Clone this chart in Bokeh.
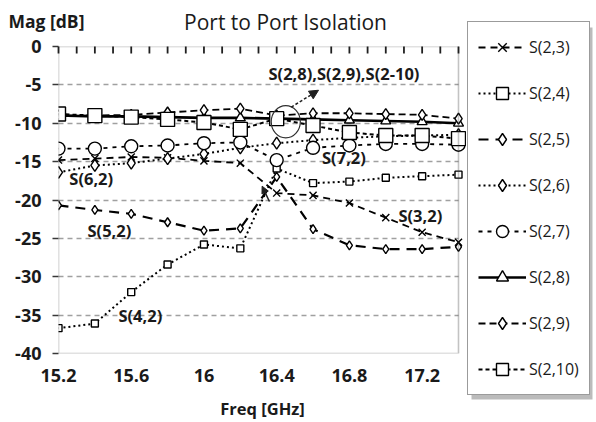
from bokeh.plotting import figure
from bokeh.layouts import row, column
from bokeh.models import (Range1d, FixedTicker, CustomJSTickFormatter, Label,
                          Arrow, NormalHead, Legend, LegendItem, BoxAnnotation)
from bokeh.embed import file_html
from bokeh.resources import INLINE

# ---------------- data ----------------
freq = [15.2, 15.4, 15.6, 15.8, 16.0, 16.2, 16.4, 16.6, 16.8, 17.0, 17.2, 17.4]
s23 = [-14.8, -14.6, -14.4, -14.5, -14.9, -15.2, -19.1, -19.4, -20.4, -22.3, -24.2, -25.5]
s24 = [-36.7, -36.1, -32.0, -28.4, -25.8, -26.3, -15.9, -17.8, -17.6, -17.1, -16.9, -16.7]
s25 = [-20.7, -21.3, -21.8, -22.9, -24.0, -23.7, -17.0, -23.8, -25.9, -26.4, -26.4, -26.1]
s26 = [-16.4, -15.5, -15.2, -14.6, -14.0, -13.2, -12.6, -12.2, -11.9, -11.7, -11.6, -11.5]
s27 = [-13.3, -13.3, -13.0, -12.9, -12.6, -12.5, -14.8, -13.2, -12.9, -12.7, -12.7, -12.8]
s28 = [-9.0, -9.1, -9.1, -9.2, -9.3, -9.3, -9.4, -9.5, -9.6, -9.7, -9.8, -10.0]
s29 = [-9.0, -9.0, -8.9, -8.6, -8.3, -8.1, -9.0, -8.7, -8.7, -8.8, -8.9, -9.4]
s210 = [-8.8, -9.0, -9.2, -9.5, -9.9, -10.8, -9.4, -10.3, -11.2, -11.6, -11.6, -12.0]

series_names = ["S(2,3)", "S(2,4)", "S(2,5)", "S(2,6)", "S(2,7)", "S(2,8)", "S(2,9)", "S(2,10)"]
series_values = [s23, s24, s25, s26, s27, s28, s29, s210]
series_markers = ["x", "square", "diamond", "diamond", "circle", "triangle", "diamond", "square"]
series_sizes = [10, 7, 9, 12, 13, 10, 11, 14]
series_dash = ["7 5", "2 3", "10 7", "2 3", "4 5", "solid", "7 4", "4 3"]
series_width = [1.8, 2.0, 2.2, 2.0, 1.8, 2.6, 1.8, 2.0]

x_ticks = [15.2, 15.6, 16.0, 16.4, 16.8, 17.2]
top_ticks = [15.2, 15.3, 15.4, 15.5, 15.6, 15.7, 15.8, 15.9, 16.0, 16.1, 16.2, 16.3,
             16.4, 16.5, 16.6, 16.7, 16.8, 16.9, 17.0, 17.1, 17.2, 17.3, 17.4]
y_ticks = [0, -5, -10, -15, -20, -25, -30, -35, -40]
x_min, x_max = 15.2, 17.4
y_min, y_max = -40, 0

# annotations: text, x, y
notes = [("S(2,8),S(2,9),S(2-10)", 16.77, -3.5),
         ("S(7,2)", 16.77, -14.5),
         ("S(3,2)", 17.19, -22.0),
         ("S(6,2)", 15.38, -17.2),
         ("S(5,2)", 15.48, -24.0),
         ("S(4,2)", 15.65, -35.0)]

FONT = "Open Sans"
INK = "#1a1a1a"
FRAME = "#383838"
FRAME_H = 307

# ---------------- header (title + y caption) ----------------
head = figure(width=466, height=34, x_range=Range1d(0, 466), y_range=Range1d(0, 34),
              x_axis_type=None, y_axis_type=None, output_backend="svg",
              toolbar_location=None, min_border=0)
head.outline_line_color = None
head.grid.visible = False
head.add_layout(Label(x=8, y=14, text="Mag [dB]", text_align="left", text_baseline="middle",
                      text_font=FONT, text_font_style="bold", text_font_size="17.5px",
                      text_color=INK))
head.add_layout(Label(x=285, y=13, text="Port to Port Isolation", text_align="center",
                      text_baseline="middle", text_font=FONT, text_font_size="21px",
                      text_color=INK))

# ---------------- main chart ----------------
p = figure(frame_width=408, frame_height=FRAME_H,
           x_range=Range1d(x_min, x_min + 408 * (x_max - x_min) / 400),
           y_range=Range1d(y_min, y_max),
           output_backend="svg", toolbar_location=None,
           min_border_left=58, min_border_right=0, min_border_top=12, min_border_bottom=69,
           background_fill_color="white", border_fill_color="white")
p.outline_line_color = None
p.xgrid.grid_line_color = None
p.ygrid.ticker = FixedTicker(ticks=y_ticks)
p.ygrid.grid_line_color = "#a0a0a0"
p.ygrid.grid_line_dash = "5 4"
p.ygrid.grid_line_width = 1.3

# hide grid to the right of the plot area
p.add_layout(BoxAnnotation(left=x_max, fill_color="white", fill_alpha=1.0,
                           line_color=None, level="underlay"))

xa = p.xaxis[0]
xa.ticker = FixedTicker(ticks=x_ticks)
xa.bounds = (x_min, x_max)
xa.formatter = CustomJSTickFormatter(code="return tick.toFixed(1).replace(/\\.0$/, '')")
xa.major_tick_in = 0
xa.major_tick_out = 0
xa.minor_tick_line_color = None
xa.axis_line_color = None
xa.major_label_standoff = 15
xa.major_label_text_font = FONT
xa.major_label_text_font_style = "bold"
xa.major_label_text_font_size = "18px"
xa.major_label_text_color = INK
xa.axis_label = "Freq [GHz]"
xa.axis_label_standoff = 12
xa.axis_label_text_font = FONT
xa.axis_label_text_font_style = "bold"
xa.axis_label_text_font_size = "16.5px"
xa.axis_label_text_color = INK

ya = p.yaxis[0]
ya.ticker = FixedTicker(ticks=y_ticks)
ya.bounds = (y_min, y_max)
ya.formatter = CustomJSTickFormatter(code="return tick.toFixed(0)")
ya.major_tick_in = 0
ya.major_tick_out = 6
ya.minor_tick_line_color = None
ya.axis_line_color = None
ya.major_tick_line_color = FRAME
ya.major_tick_line_width = 1.3
ya.major_label_standoff = 11
ya.major_label_text_font = FONT
ya.major_label_text_font_style = "bold"
ya.major_label_text_font_size = "18px"
ya.major_label_text_color = INK

# tick marks hanging down from the 0 dB line
tick_len = 7 * (y_max - y_min) / FRAME_H
p.segment(x0=top_ticks, y0=[y_max] * len(top_ticks),
          x1=top_ticks, y1=[y_max - tick_len] * len(top_ticks),
          line_color="#202020", line_width=1.8, level="overlay")

for name, vals, mk, sz, dash, lw in zip(series_names, series_values, series_markers,
                                         series_sizes, series_dash, series_width):
    p.line(freq, vals, line_color="black", line_width=lw, line_dash=dash)
    p.scatter(freq, vals, marker=mk, size=sz, fill_color="white",
              line_color="black", line_width=1.4)

# plot-area border
p.add_layout(BoxAnnotation(left=x_min, right=x_max, bottom=y_min, top=y_max,
                           fill_color=None, line_color=FRAME, line_width=1.6))

p.ellipse(x=[16.45], y=[-9.8], width=[0.16], height=[4.2],
          fill_color=None, line_color="#303030", line_width=1.2)
p.add_layout(Arrow(x_start=16.48, y_start=-7.9, x_end=16.63, y_end=-5.7,
                   line_color="#202020", line_width=1.5, line_dash="3 2",
                   end=NormalHead(size=9, fill_color="#202020", line_color="#202020")))
p.add_layout(Arrow(x_start=16.36, y_start=-20.2, x_end=16.32, y_end=-18.2,
                   line_color="#202020", line_width=1.5,
                   end=NormalHead(size=7, fill_color="#202020", line_color="#202020")))

for txt, tx, ty in notes:
    p.add_layout(Label(x=tx, y=ty, text=txt, text_align="center", text_baseline="middle",
                       text_font=FONT, text_font_style="bold", text_font_size="16.5px",
                       text_color=INK))

# ---------------- legend panel ----------------
lg = figure(width=130, height=422, x_range=Range1d(0, 130), y_range=Range1d(0, 422),
            x_axis_type=None, y_axis_type=None, output_backend="svg",
            toolbar_location=None, min_border=0)
lg.outline_line_color = None
lg.grid.visible = False
lg.add_layout(BoxAnnotation(left=5, right=126, bottom=23, top=395,
                            fill_color="#b4b4b4", fill_alpha=0.9, line_color=None))
items = []
for name, vals, mk, dash, lw in zip(series_names, series_values, series_markers,
                                    series_dash, series_width):
    # same series drawn in this panel's (off-screen) range only to feed the legend glyphs
    lr = lg.line(freq, vals, line_color="black", line_width=lw, line_dash=dash)
    sr = lg.scatter(freq, vals, marker=mk, fill_color="white", line_color="black",
                    line_width=1.4)
    items.append(LegendItem(label=name, renderers=[lr, sr]))
legend = Legend(items=items, location=(1, 27), orientation="vertical",
                glyph_width=48, glyph_height=30, spacing=16, padding=10,
                label_standoff=3, label_text_font=FONT, label_text_font_size="16px",
                label_text_color=INK, label_height=30,
                border_line_color=FRAME, border_line_width=1.5,
                background_fill_color="white", background_fill_alpha=1.0)
lg.add_layout(legend, "center")

layout = row(column(column(head), p), lg)
open("out.html", "w").write(file_html(layout, INLINE))
